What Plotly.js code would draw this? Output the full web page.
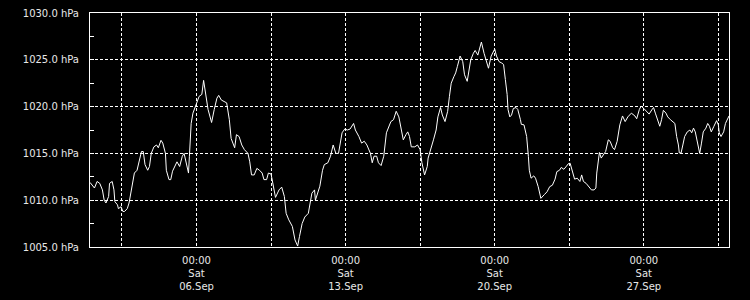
<!DOCTYPE html>
<html><head><meta charset="utf-8">
<script src="https://cdn.plot.ly/plotly-3.0.1.min.js"></script>
<style>html,body{margin:0;padding:0;background:#000;}#chart{width:750px;height:300px;}</style>
</head><body><div id="chart"></div>
<script>
// hours since 2025-09-01 00:00
const hours = [0,1,5,8,11,14,16,18,21,22,25,27,28,31,32,35,37,39,42,44,46,48,50,53,56,58,60,62,65,67,69,72,75,77,80,82,85,86,89,91,93,96,98,101,104,106,108,111,112,114,116,119,121,123,126,128,133,137,140,143,145,148,154,157,159,163,165,168,171,174,178,180,182,185,188,191,194,196,199,201,204,206,209,213,216,219,221,224,228,231,234,236,239,242,246,250,253,254,259,262,264,268,271,274,277,280,284,287,290,293,297,299,303,306,309,312,314,316,318,320,323,325,328,331,334,337,339,342,345,348,350,353,356,358,360,362,366,369,372,374,377,380,381,384,387,390,392,395,397,400,403,405,407,410,412,414,417,420,422,425,427,429,432,434,437,440,441,444,447,449,452,455,456,458,461,464,466,468,470,471,473,475,477,480,482,485,486,489,492,494,495,497,500,502,505,508,510,512,515,518,521,524,526,529,531,534,537,539,541,544,546,549,552,554,556,559,562,565,568,570,571,573,574,576,579,581,584,586,589,591,594,597,600,603,606,610,614,616,619,621,624,627,630,633,635,637,640,642,644,646,649,651,654,657,659,661,663,664,666,668,670,673,676,678,680,682,685,687,689,691,694,696,698,700,703,706,708,709,711,714,716,719,720];
const pressure = [1011.9,1011.8,1011.3,1012.0,1011.8,1011.1,1010.0,1009.7,1010.4,1011.8,1012.0,1011.1,1009.85,1009.5,1009.1,1009.3,1008.8,1008.8,1009.1,1009.7,1010.75,1011.8,1012.9,1013.2,1014.3,1015.2,1015.2,1013.8,1013.2,1013.6,1015.0,1015.7,1015.9,1015.6,1016.4,1016.1,1015.0,1013.2,1012.2,1012.2,1013.1,1013.8,1014.1,1013.6,1014.7,1015.0,1014.0,1012.9,1014.7,1018.2,1019.3,1020.0,1020.5,1021.1,1021.3,1022.8,1019.7,1018.3,1019.7,1020.9,1021.2,1020.7,1020.4,1018.6,1016.6,1015.6,1017.0,1016.8,1015.9,1015.4,1015.0,1014.1,1012.7,1012.7,1013.4,1013.2,1012.9,1012.2,1012.2,1012.9,1012.8,1011.6,1010.3,1011.1,1011.4,1010.4,1008.6,1007.9,1007.2,1005.75,1005.1,1006.1,1007.5,1008.2,1008.6,1010.75,1011.1,1010.0,1011.5,1013.2,1013.8,1014.0,1014.7,1015.9,1015.0,1015.0,1017.2,1017.6,1017.5,1017.6,1018.2,1017.5,1016.8,1016.1,1016.3,1015.9,1015.4,1015.0,1014.0,1014.7,1014.7,1014.0,1013.7,1014.7,1017.2,1017.9,1018.4,1018.6,1019.5,1018.9,1017.9,1016.45,1017.0,1017.3,1016.8,1015.7,1015.7,1015.9,1015.4,1014.0,1012.7,1013.6,1014.5,1015.4,1016.45,1017.5,1018.9,1019.9,1019.1,1018.4,1019.5,1021.1,1022.5,1023.2,1023.6,1024.3,1025.4,1024.8,1023.4,1022.7,1023.75,1025.0,1025.7,1026.0,1025.5,1026.4,1026.9,1025.7,1024.65,1024.1,1025.4,1026.0,1026.15,1025.4,1024.8,1024.65,1024.5,1022.9,1021.3,1019.7,1018.9,1019.1,1019.8,1019.9,1019.7,1018.6,1018.1,1018.05,1016.8,1014.65,1013.2,1012.35,1012.6,1012.35,1011.45,1010.2,1010.45,1010.6,1010.9,1011.45,1011.6,1012.25,1013.05,1013.2,1013.5,1013.3,1013.65,1013.9,1013.95,1012.9,1012.25,1012.35,1012.0,1012.7,1012.0,1011.8,1011.45,1011.1,1011.1,1011.3,1012.9,1014.65,1015.1,1014.5,1015.0,1015.2,1016.45,1016.3,1015.6,1015.4,1016.3,1018.05,1019.0,1018.4,1018.9,1019.3,1019.0,1018.7,1019.7,1020.05,1019.8,1019.5,1019.2,1019.65,1019.9,1019.3,1018.4,1017.9,1018.6,1019.6,1019.3,1018.9,1018.6,1018.4,1018.2,1016.8,1015.9,1015.05,1015.05,1015.9,1016.8,1017.3,1017.5,1017.2,1017.7,1017.3,1016.1,1015.0,1016.1,1017.3,1017.7,1018.2,1017.9,1017.3,1017.9,1018.5,1018.05,1017.2,1016.8,1017.3,1018.2,1018.9,1019.0];

const gridTimes = ['2025-09-02 12:00','2025-09-06 00:00','2025-09-09 12:00','2025-09-13 00:00','2025-09-16 12:00','2025-09-20 00:00','2025-09-23 12:00','2025-09-27 00:00','2025-09-30 12:00'];
const gridLabels = ['','00:00<br>Sat<br>06.Sep','','00:00<br>Sat<br>13.Sep','','00:00<br>Sat<br>20.Sep','','00:00<br>Sat<br>27.Sep',''];
const yTicks = [1005,1010,1015,1020,1025,1030];
const yLabels = ['1005.0 hPa','1010.0 hPa','1015.0 hPa','1020.0 hPa','1025.0 hPa','1030.0 hPa'];
const xStart = '2025-09-01 00:00', xEnd = '2025-10-01 00:00';

function hToDate(h){
  const d = new Date(Date.UTC(2025,8,1) + h*3600000);
  const p = n => String(n).padStart(2,'0');
  return d.getUTCFullYear()+'-'+p(d.getUTCMonth()+1)+'-'+p(d.getUTCDate())+' '+p(d.getUTCHours())+':'+p(d.getUTCMinutes());
}
const xs = hours.map(hToDate);

const fg = '#e8e8e8';
const trace = {x: xs, y: pressure, type:'scatter', mode:'lines', line:{color:'#ffffff', width:1}, hoverinfo:'skip'};
const layout = {
  width:750, height:300,
  paper_bgcolor:'#000', plot_bgcolor:'#000',
  margin:{l:90, r:21, t:13, b:53, pad:0},
  showlegend:false,
  font:{family:'DejaVu Sans, sans-serif', size:10, color:fg},
  xaxis:{type:'date', range:[xStart, xEnd], tickmode:'array', tickvals:gridTimes, ticktext:gridLabels,
    showgrid:true, gridcolor:'#ffffff', gridwidth:1, griddash:'3px,2px',
    showline:true, linecolor:'#ffffff', linewidth:1, mirror:true, ticks:'', zeroline:false,
    ticklabelstandoff:4,
    tickfont:{family:'DejaVu Sans, sans-serif', size:10, color:fg}, fixedrange:true},
  yaxis:{range:[1005,1030], tickmode:'array', tickvals:yTicks, ticktext:yLabels,
    showgrid:true, gridcolor:'#ffffff', gridwidth:1, griddash:'3px,2px',
    showline:true, linecolor:'#ffffff', linewidth:1, mirror:true, ticks:'inside', ticklen:4, tickcolor:'#ffffff',
    minor:{dtick:2.5, tick0:1005, ticks:'inside', ticklen:4, tickcolor:'#ffffff', showgrid:false},
    zeroline:false, ticklabelstandoff:8,
    tickfont:{family:'DejaVu Sans, sans-serif', size:10, color:fg}, fixedrange:true}
};
Plotly.newPlot('chart', [trace], layout, {staticPlot:true, displayModeBar:false});
</script></body></html>
